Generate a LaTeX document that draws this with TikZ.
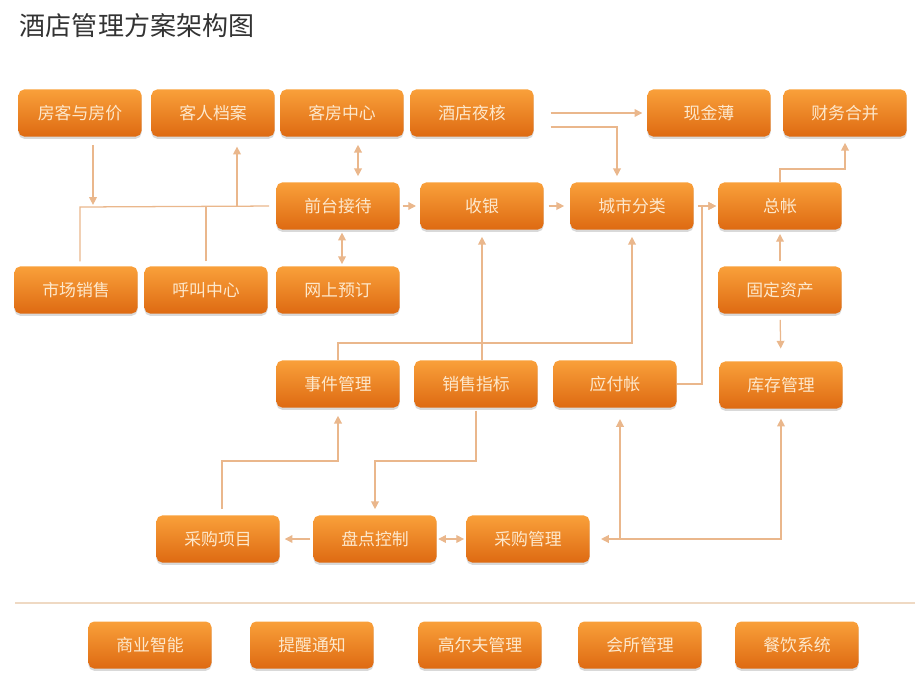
\documentclass[tikz,border=0pt]{standalone}
\usepackage{fontspec}
\setmainfont{Noto Sans CJK SC}
\usepackage{xcolor}
\usetikzlibrary{arrows.meta,calc,shadows}
\definecolor{boxtop}{HTML}{F9A03A}
\definecolor{boxbot}{HTML}{DE6A12}
\definecolor{linkc}{HTML}{EAB78C}
\definecolor{txtc}{HTML}{FDE8CC}
\definecolor{sepc}{HTML}{EFD9C3}
\tikzset{
  modul/.style={rectangle,rounded corners=4pt,top color=boxtop,bottom color=boxbot,
    minimum width=3.075cm,minimum height=1.175cm,inner sep=0pt,text=txtc,
    font=\fontsize{12}{14}\selectfont,
    drop shadow={shadow xshift=0pt,shadow yshift=-1.6pt,opacity=0.3}},
  link/.style={draw=linkc,line width=0.9pt},
  arr/.style={link,-{Triangle[length=5.5pt,width=5.5pt]}},
  darr/.style={link,{Triangle[length=5.5pt,width=5.5pt]}-{Triangle[length=5.5pt,width=5.5pt]}}
}

\begin{document}
\begin{tikzpicture}[x=0.025cm,y=-0.025cm]
\useasboundingbox (0,0) rectangle (920,690);
\node[anchor=west,font=\fontsize{18.5}{20}\selectfont,text=black!80] (title) at (15,26) {酒店管理方案架构图};

\node[modul] (fj) at (80,113) {房客与房价};
\node[modul] (kr) at (213,113) {客人档案};
\node[modul] (kf) at (342,113) {客房中心};
\node[modul] (yh) at (472,113) {酒店夜核};
\node[modul] (xj) at (709,113) {现金薄};
\node[modul] (cw) at (845,113) {财务合并};

\node[modul] (qt) at (338,206) {前台接待};
\node[modul] (sy) at (482,206) {收银};
\node[modul] (cs) at (632,206) {城市分类};
\node[modul] (zz) at (780,206) {总帐};

\node[modul] (sc) at (76,290) {市场销售};
\node[modul] (hj) at (206,290) {呼叫中心};
\node[modul] (ws) at (338,290) {网上预订};
\node[modul] (gd) at (780,290) {固定资产};

\node[modul] (sj) at (338,384) {事件管理};
\node[modul] (xs) at (476,384) {销售指标};
\node[modul] (yf) at (615,384) {应付帐};
\node[modul] (kc) at (781,385) {库存管理};

\node[modul] (cx) at (218,539) {采购项目};
\node[modul] (pd) at (375,539) {盘点控制};
\node[modul] (cg) at (528,539) {采购管理};

% junction points
\coordinate (hub) at (80,207);
\coordinate (f1) at (93,207);
\coordinate (k1) at (237,207);
\coordinate (y1) at (702,0);
\coordinate (z1) at (0,169);
\coordinate (c2) at (0,343);
\coordinate (c3) at (0,461);
\coordinate (c4) at (222,461);
\coordinate (y2) at (620,538);

\draw[link,shorten <=5pt,shorten >=3.5pt] (qt.west) -- (hub) -- (hub |- sc.north);
\draw[link,shorten <=3.5pt] (hj.north) -- (hj.north |- hub);
\draw[arr,shorten <=5.7pt,shorten >=1.5pt] (f1 |- fj.south) -- (f1);
\draw[arr,shorten >=7pt] (k1) -- (k1 |- kr.south);
\draw[darr,shorten <=5.7pt,shorten >=4.3pt] ($(kf.south)+(16,0)$) -- ($(qt.north)+(20,0)$);
\draw[darr,shorten <=2pt,shorten >=1.5pt] ($(qt.south)+(4,0)$) -- ($(ws.north)+(4,0)$);
  \draw[arr,shorten <=2pt,shorten >=3pt] (qt.east) -- (sy.west);
  \draw[arr,shorten <=3.5pt,shorten >=4.3pt] (sy.east) -- (cs.west);
  \draw[arr,shorten <=3pt,shorten >=1.5pt] (cs.east) -- (zz.west);
\draw[arr,shorten >=1.5pt] (yf.east) -- (yf.east -| y1) |- (zz.west);
\draw[arr,shorten <=12pt,shorten >=3.5pt] (yh.east) -- (xj.west);
\draw[arr,shorten <=12pt,shorten >=4.3pt] ($(yh.east)+(0,14)$) -| ($(cs.north)+(-15,0)$);
\draw[arr,shorten >=4.3pt] (zz.north) -- (zz.north |- z1) -| (cw.south);
\draw[arr,shorten <=3.5pt,shorten >=3pt] (gd.north) -- (zz.south);
\draw[arr,shorten <=4.3pt,shorten >=9pt] (gd.south) -- (kc.north);

\draw[arr,shorten >=5pt] (sj.north) -- (sj.north |- c2) -| (cs.south);
\draw[arr,shorten >=5pt] (sy.south |- xs.north) -- (sy.south);
\draw[arr,shorten <=2pt,shorten >=4.3pt] (xs.south) -- (xs.south |- c3) -| (pd.north);
\draw[arr,shorten <=4.3pt,shorten >=5.7pt] (c4 |- cx.north) -- (c4) -| (sj.south);
  \draw[arr,shorten <=2pt,shorten >=3.5pt] (pd.west) -- (cx.east);
  \draw[darr,shorten <=1pt,shorten >=1.5pt] (pd.east) -- (cg.west);
\draw[darr,shorten <=7pt,shorten >=8pt] (kc.south) |- (cg.east);
\draw[arr,shorten >=8pt] (y2) -- (y2 |- yf.south);

\draw[sepc,line width=1.5pt] (15,603) -- (915,603);

\node[modul] (sz) at (150,645) {商业智能};
\node[modul] (tx) at (312,645) {提醒通知};
\node[modul] (gr) at (480,645) {高尔夫管理};
\node[modul] (hs) at (640,645) {会所管理};
\node[modul] (cy) at (797,645) {餐饮系统};
\end{tikzpicture}
\end{document}
